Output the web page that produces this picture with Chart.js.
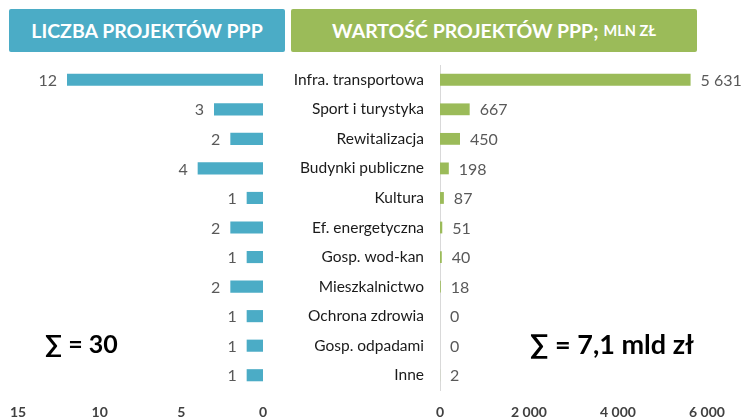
<!DOCTYPE html>
<html><head><meta charset="utf-8">
<script src="https://cdn.jsdelivr.net/npm/chart.js@4.4.1/dist/chart.umd.min.js"></script>
<style>
html,body{margin:0;padding:0;background:#fff;width:741px;height:419px;overflow:hidden;font-family:Lato,"DejaVu Sans",sans-serif;}
.hdr{position:absolute;top:9px;height:43px;border-radius:2px;color:#fff;font-weight:bold;font-size:19.5px;display:flex;align-items:center;justify-content:center;white-space:nowrap;}
#h1{left:9px;width:276px;background:#4BACC6;}
#h2{left:291px;width:406px;background:#9BBB59;}
#h2 small{font-size:14.5px;margin-left:5px;}
.box{position:absolute;top:0;height:419px;}
#c1box{left:0;width:280px;}
#c2box{left:280px;width:461px;}
.sum{position:absolute;font-weight:bold;font-size:25px;color:#000;white-space:nowrap;line-height:1;}
</style></head>
<body>
<div class="hdr" id="h1">LICZBA PROJEKTÓW PPP</div>
<div class="hdr" id="h2">WARTOŚĆ PROJEKTÓW PPP;<small>MLN ZŁ</small></div>
<div class="box" id="c1box"><canvas id="c1"></canvas></div>
<div class="box" id="c2box"><canvas id="c2"></canvas></div>
<div class="sum" style="left:45px;top:331px;">∑ = 30</div>
<div class="sum" style="left:530px;top:330px;font-size:27px;">∑ = 7,1 mld zł</div>
<script>
const categories = ['Infra. transportowa','Sport i turystyka','Rewitalizacja','Budynki publiczne','Kultura','Ef. energetyczna','Gosp. wod-kan','Mieszkalnictwo','Ochrona zdrowia','Gosp. odpadami','Inne'];
const projectCounts = [12,3,2,4,1,2,1,2,1,1,1];
const projectValues = [5631,667,450,198,87,51,40,18,0,0,2];
const countTicks = [0,5,10,15];
const valueTicks = [0,2000,4000,6000];

const FONT = 'Lato, "DejaVu Sans", sans-serif';
const fmt = v => String(v).replace(/\B(?=(\d{3})+(?!\d))/g, ' ');

const valueLabels = {
  id: 'valueLabels',
  afterDatasetsDraw(chart, args, opts) {
    const ctx = chart.ctx;
    const meta = chart.getDatasetMeta(0);
    ctx.save();
    ctx.font = '16px ' + FONT;
    ctx.fillStyle = '#595959';
    ctx.textBaseline = 'middle';
    meta.data.forEach((bar, i) => {
      const txt = fmt(chart.data.datasets[0].data[i]);
      if (opts.side === 'left') {
        ctx.textAlign = 'right';
        ctx.fillText(txt, Math.min(bar.x, bar.base) - opts.gap, bar.y + 1);
      } else {
        ctx.textAlign = 'left';
        ctx.fillText(txt, Math.max(bar.x, bar.base) + opts.gap, bar.y + 1);
      }
    });
    ctx.restore();
  }
};

const tickFont = {family: FONT, size: 14, weight: 'bold'};

new Chart(document.getElementById('c1'), {
  type: 'bar',
  data: {labels: categories, datasets: [{data: projectCounts, backgroundColor: '#4BACC6', barPercentage: 0.41, categoryPercentage: 1}]},
  options: {
    indexAxis: 'y', responsive: true, maintainAspectRatio: false, animation: false,
    layout: {padding: {top: 65, left: 18, right: 17, bottom: 0}},
    plugins: {legend: {display: false}, tooltip: {enabled: false}, valueLabels: {side: 'left', gap: 10}},
    scales: {
      x: {reverse: true, min: 0, max: 15,
        afterBuildTicks: ax => { ax.ticks = countTicks.map(v => ({value: v})); },
        afterFit: ax => { ax.height = 29; },
        grid: {display: false, drawTicks: false}, border: {display: false},
        ticks: {font: tickFont, color: '#404040', padding: 14, maxRotation: 0}},
      y: {display: false}
    }
  },
  plugins: [valueLabels]
});

new Chart(document.getElementById('c2'), {
  type: 'bar',
  data: {labels: categories, datasets: [{data: projectValues, backgroundColor: '#9BBB59', barPercentage: 0.4, categoryPercentage: 1}]},
  options: {
    indexAxis: 'y', responsive: true, maintainAspectRatio: false, animation: false,
    layout: {padding: {top: 65, left: 0, right: 34, bottom: 0}},
    plugins: {legend: {display: false}, tooltip: {enabled: false}, valueLabels: {side: 'right', gap: 10}},
    scales: {
      x: {min: 0, max: 6000,
        afterBuildTicks: ax => { ax.ticks = valueTicks.map(v => ({value: v})); },
        afterFit: ax => { ax.height = 29; },
        grid: {display: false, drawTicks: false}, border: {display: false},
        ticks: {font: tickFont, color: '#404040', padding: 14, maxRotation: 0, callback: v => fmt(v)}},
      y: {
        afterFit: ax => { ax.width = 160; },
        grid: {display: false, drawTicks: false},
        border: {display: true, color: '#D9D9D9', width: 1},
        ticks: {font: {family: FONT, size: 15.5}, color: '#1a1a1a', padding: 16}
      }
    }
  },
  plugins: [valueLabels]
});
</script>
</body></html>
